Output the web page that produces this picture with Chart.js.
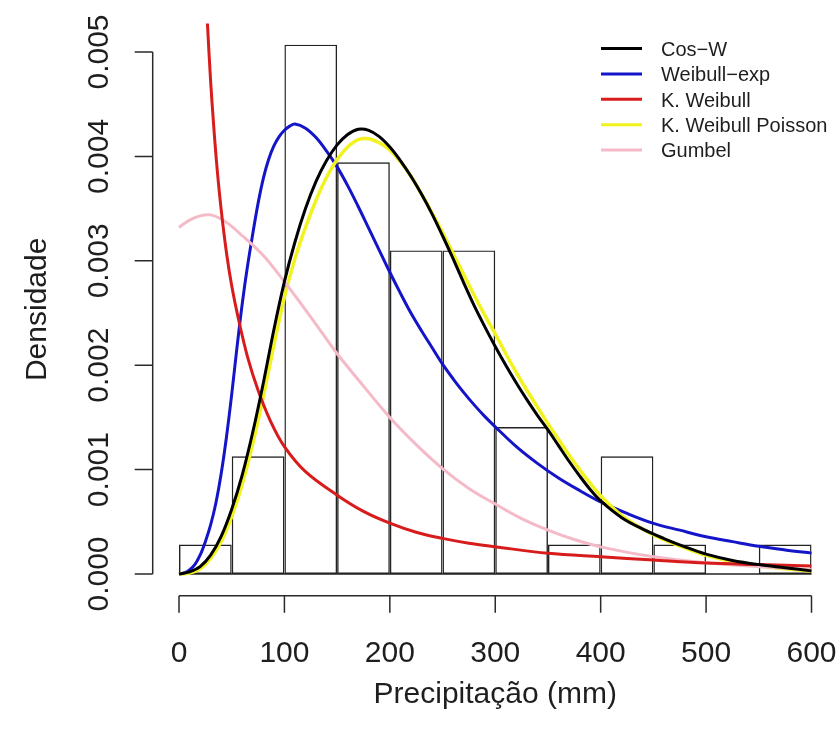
<!DOCTYPE html>
<html>
<head>
<meta charset="utf-8">
<script src="https://cdn.jsdelivr.net/npm/chart.js@4.4.0/dist/chart.umd.min.js"></script>
<style>
  html, body { margin: 0; padding: 0; background: #fff; }
  #wrap { width: 837px; height: 740px; }
</style>
</head>
<body>
<div id="wrap"><canvas id="chart" width="837" height="740"></canvas></div>
<script>
// Histogram: precipitation bins (mm) and densities
const binStarts = [0, 50, 100, 150, 200, 250, 300, 350, 400, 450, 500, 550];
const binWidth = 50;
const histDensity = [0.000282, 0.001127, 0.00507, 0.003944, 0.003099, 0.003099,
                     0.001408, 0.000282, 0.001127, 0.000282, 0, 0.000282];

// Axis ticks
const xTicks = [0, 100, 200, 300, 400, 500, 600];
const yTicks = [0, 0.001, 0.002, 0.003, 0.004, 0.005];
const yTickLabels = ['0.000', '0.001', '0.002', '0.003', '0.004', '0.005'];

// Fitted densities
const cosW_x = [0, 10, 20, 30, 40, 50, 60, 70, 80, 90, 100, 110, 120, 130, 140, 150, 160, 170, 180, 190,
                200, 210, 220, 230, 240, 250, 260, 270, 280, 290, 300, 310, 320, 330, 340, 350, 360, 370,
                380, 390, 400, 420, 440, 460, 480, 500, 525, 550, 575, 600];
const cosW_y = [0, 0.00002, 0.00007, 0.00018, 0.00036, 0.00062, 0.00095, 0.00136, 0.00183, 0.00234,
                0.0028, 0.00318, 0.0035, 0.00376, 0.00396, 0.00411, 0.00421, 0.00426, 0.00425, 0.00419,
                0.00409, 0.00396, 0.00381, 0.00364, 0.00345, 0.00324, 0.00302, 0.00279, 0.00257, 0.00237,
                0.00218, 0.002, 0.00183, 0.00167, 0.00152, 0.00138, 0.00123, 0.00108, 0.00094, 0.00081,
                0.0007, 0.00054, 0.00043, 0.00034, 0.00026, 0.00019, 0.00013, 0.00009, 0.00006, 0.00003];

const wexp_x = [0, 5, 10, 15, 20, 25, 30, 35, 40, 45, 50, 55, 60, 65, 70, 75, 80, 85, 90, 95, 100, 105,
                110, 120, 130, 140, 150, 160, 170, 180, 190, 200, 210, 220, 230, 240, 250, 260, 270, 280,
                290, 300, 320, 340, 360, 380, 400, 425, 450, 475, 500, 525, 550, 575, 600];
const wexp_y = [0, 0.00001, 0.00004, 0.00009, 0.00018, 0.00031, 0.00047, 0.00068, 0.00096, 0.00131,
                0.00172, 0.00217, 0.00259, 0.00295, 0.00326, 0.00355, 0.00379, 0.00397, 0.0041, 0.00419,
                0.00425, 0.00429, 0.00431, 0.00427, 0.00418, 0.00405, 0.0039, 0.00372, 0.00352, 0.00331,
                0.0031, 0.00289, 0.00269, 0.0025, 0.00233, 0.00217, 0.00201, 0.00187, 0.00174, 0.00162,
                0.00151, 0.00141, 0.00122, 0.00106, 0.00092, 0.0008, 0.00069, 0.00058, 0.000485, 0.00042,
                0.000357, 0.00031, 0.000265, 0.00023, 0.0002];

const kw_x = [22, 25, 27, 30, 33, 36, 40, 45, 50, 56, 65, 75, 87, 100, 120, 150, 175, 200, 225, 250,
              275, 300, 350, 400, 450, 500, 550, 600];
const kw_y = [0.0066, 0.00572, 0.00527, 0.00472, 0.00428, 0.0039, 0.00349, 0.00308, 0.00276, 0.00246,
              0.00208, 0.00176, 0.00146, 0.00122, 0.00098, 0.000755, 0.0006, 0.000487, 0.0004, 0.000341,
              0.000295, 0.000261, 0.000198, 0.000165, 0.000134, 0.000105, 0.00009, 0.000076];

const kwp_x = cosW_x;
const kwp_y = [0, 0.00001, 0.00005, 0.00015, 0.00031, 0.00055, 0.00086, 0.00125, 0.0017, 0.00219,
               0.00265, 0.00302, 0.00332, 0.00358, 0.0038, 0.00397, 0.00409, 0.00416, 0.00417, 0.00413,
               0.00406, 0.00395, 0.00381, 0.00364, 0.00346, 0.00327, 0.00307, 0.00287, 0.00267, 0.00248,
               0.0023, 0.00211, 0.00193, 0.00176, 0.0016, 0.00144, 0.00129, 0.00114, 0.001, 0.00087,
               0.00075, 0.00056, 0.00043, 0.00033, 0.00025, 0.00018, 0.00012, 0.00008, 0.00005, 0.00003];

const gum_x = [0, 10, 20, 30, 40, 50, 60, 70, 80, 90, 100, 120, 140, 150, 175, 200, 225, 250, 275, 300,
               325, 350, 375, 400, 450, 500, 550, 600];
const gum_y = [0.00332, 0.00339, 0.00343, 0.00344, 0.0034, 0.00333, 0.00324, 0.00315, 0.00305, 0.00293,
               0.0028, 0.00253, 0.00225, 0.00211, 0.0018, 0.0015, 0.00124, 0.00101, 0.00082, 0.00067,
               0.00053, 0.00042, 0.00033, 0.00026, 0.000165, 0.000108, 0.00007, 0.00004];

const legendLabels = ['Cos\u2212W', 'Weibull\u2212exp', 'K. Weibull', 'K. Weibull Poisson', 'Gumbel'];
const legendColors = ['#000000', '#1414c8', '#d81c1c', '#f2f21e', '#f5bac7'];

const FONT = "'Liberation Sans', Arial, Helvetica, sans-serif";
const INK = '#1e1e1e';

const toPoints = (xs, ys) => xs.map((x, i) => ({ x: x, y: ys[i] }));

function curve(label, xs, ys, color, order, width) {
    return {
        type: 'line',
        label: label,
        data: toPoints(xs, ys),
        borderColor: color,
        borderWidth: width,
        pointRadius: 0,
        fill: false,
        tension: 0.35,
        order: order,
    };
}

// R-style axes, titles and legend drawn from the chart's scales
const rStyle = {
    id: 'rStyle',
    beforeDatasetsDraw(chart) {
        const { ctx, scales: { x, y } } = chart;
        ctx.save();
        ctx.strokeStyle = '#222';
        ctx.lineWidth = 1.4;
        ctx.beginPath();
        ctx.moveTo(x.getPixelForValue(binStarts[0]), y.getPixelForValue(0));
        ctx.lineTo(x.getPixelForValue(binStarts[binStarts.length - 1] + binWidth), y.getPixelForValue(0));
        ctx.stroke();
        ctx.restore();
    },
    afterDraw(chart) {
        const { ctx, chartArea, scales: { x, y } } = chart;
        ctx.save();
        ctx.strokeStyle = '#2a2a2a';
        ctx.lineWidth = 1.5;
        ctx.fillStyle = INK;

        // x axis
        const xa = chartArea.bottom + 0.5;
        ctx.beginPath();
        ctx.moveTo(x.getPixelForValue(xTicks[0]), xa);
        ctx.lineTo(x.getPixelForValue(xTicks[xTicks.length - 1]), xa);
        xTicks.forEach(v => {
            const px = x.getPixelForValue(v);
            ctx.moveTo(px, xa);
            ctx.lineTo(px, xa + 17);
        });
        ctx.stroke();
        ctx.font = '30px ' + FONT;
        ctx.textAlign = 'center';
        ctx.textBaseline = 'alphabetic';
        xTicks.forEach(v => ctx.fillText(String(v), x.getPixelForValue(v), 662));
        ctx.fillText('Precipitação (mm)', (chartArea.left + chartArea.right) / 2, 703);

        // y axis
        const ya = chartArea.left - 1;
        ctx.beginPath();
        ctx.moveTo(ya, y.getPixelForValue(yTicks[0]));
        ctx.lineTo(ya, y.getPixelForValue(yTicks[yTicks.length - 1]));
        yTicks.forEach(v => {
            const py = y.getPixelForValue(v);
            ctx.moveTo(ya, py);
            ctx.lineTo(ya - 18, py);
        });
        ctx.stroke();
        yTicks.forEach((v, i) => {
            ctx.save();
            ctx.translate(108, y.getPixelForValue(v));
            ctx.rotate(-Math.PI / 2);
            ctx.fillText(yTickLabels[i], 0, 0);
            ctx.restore();
        });
        ctx.save();
        ctx.translate(46, (chartArea.top + chartArea.bottom) / 2);
        ctx.rotate(-Math.PI / 2);
        ctx.fillText('Densidade', 0, 0);
        ctx.restore();

        // legend
        ctx.font = '20px ' + FONT;
        ctx.textAlign = 'left';
        ctx.lineWidth = 3;
        legendLabels.forEach((lab, i) => {
            const ly = 48.5 + i * 25.4;
            ctx.strokeStyle = legendColors[i];
            ctx.beginPath();
            ctx.moveTo(601, ly);
            ctx.lineTo(642, ly);
            ctx.stroke();
            ctx.fillStyle = INK;
            ctx.fillText(lab, 661, ly + 7.2);
        });
        ctx.restore();
    }
};

new Chart(document.getElementById('chart'), {
    data: {
        datasets: [
            curve(legendLabels[0], cosW_x, cosW_y, legendColors[0], 1, 3),
            curve(legendLabels[2], kw_x, kw_y, legendColors[2], 2, 3),
            curve(legendLabels[4], gum_x, gum_y, legendColors[4], 3, 3),
            curve(legendLabels[3], kwp_x, kwp_y, legendColors[3], 4, 3.5),
            curve(legendLabels[1], wexp_x, wexp_y, legendColors[1], 5, 3),
            {
                type: 'bar',
                label: 'Histograma',
                data: binStarts.map((b, i) => ({ x: b + binWidth / 2, y: histDensity[i] })),
                backgroundColor: 'rgba(0,0,0,0)',
                borderColor: '#222',
                borderWidth: 1.4,
                borderSkipped: false,
                inflateAmount: 0,
                categoryPercentage: 1,
                barPercentage: 1,
                order: 10,
            },
        ],
    },
    options: {
        responsive: false,
        devicePixelRatio: 1,
        animation: false,
        layout: { padding: { left: 153.7, right: 0.2, top: 23.5, bottom: 144.8 } },
        scales: {
            x: { type: 'linear', min: -24, max: 624, display: false, offset: false },
            y: { type: 'linear', min: -0.000203, max: 0.005273, display: false },
        },
        plugins: {
            legend: { display: false },
            tooltip: { enabled: false },
        },
    },
    plugins: [rStyle],
});
</script>
</body>
</html>
